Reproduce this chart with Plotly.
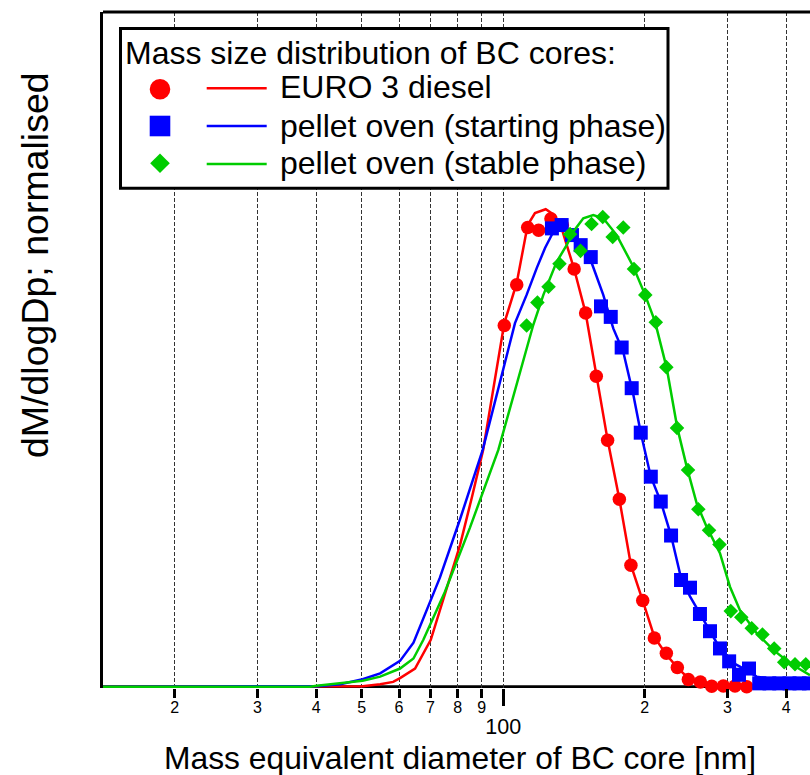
import math
import plotly.graph_objects as go

# ---------------- data: mass size distributions of BC cores ----------------
# measured points (mass equivalent diameter in nm, normalised dM/dlogDp)
red_d = [100.5, 106.8, 112.7, 118.9, 126.3, 133.6, 141.5, 149.7, 157.7, 166.7,
         176.6, 186.9, 198.0, 209.6, 222.3, 234.6, 247.6, 262.7, 277.6, 293.9,
         311.2, 329.6, 348.9, 368.6, 389.9, 412.5, 436.3]
red_v = [0.755, 0.840, 0.960, 0.954, 0.978, 0.965, 0.873, 0.781, 0.649, 0.515,
         0.392, 0.254, 0.180, 0.102, 0.070, 0.040, 0.015, 0.010, 0.001, 0.0015,
         0.0015, 0.0, -0.003, -0.003, -0.003, -0.003, -0.003]

blue_d = [126.9, 133.1, 140.0, 146.1, 153.5, 161.4, 169.3, 178.6, 187.6, 196.1,
          206.0, 216.3, 227.5, 238.9, 249.6, 262.1, 275.3, 289.1, 302.4, 317.3,
          333.3, 350.4, 368.1, 386.6, 406.4, 426.8, 447.1]
blue_v = [0.958, 0.965, 0.944, 0.923, 0.898, 0.795, 0.773, 0.709, 0.624, 0.531,
          0.439, 0.387, 0.316, 0.223, 0.207, 0.152, 0.116, 0.080, 0.053, 0.025,
          0.038, 0.007, 0.007, 0.007, 0.007, 0.007, 0.007]

green_d = [112.1, 118.2, 124.8, 131.7, 138.7, 146.0, 154.1, 162.8, 170.9, 180.0,
           189.7, 200.5, 211.1, 222.3, 234.2, 247.2, 260.0, 274.0, 288.4, 304.8,
           320.9, 337.7, 356.0, 377.1, 396.0, 417.5, 440.2]
green_v = [0.755, 0.803, 0.836, 0.884, 0.946, 0.911, 0.967, 0.982, 0.940, 0.960,
           0.873, 0.819, 0.762, 0.668, 0.541, 0.453, 0.371, 0.327, 0.297, 0.158,
           0.145, 0.122, 0.109, 0.080, 0.051, 0.047, 0.047]

# fitted curves
red_fit_d = [14.0, 40.1, 50.2, 54.7, 58.3, 60.3, 64.9, 70.1, 75.1, 80.9, 85.8,
             90.6, 100.5, 106.8, 112.7, 116.8, 123.1, 126.7, 133.1, 141.5, 149.7,
             157.7, 166.7, 176.6, 186.9, 198.0, 209.6, 222.0, 234.6, 247.6, 262.0,
             278.0, 311.0, 449.0]
red_fit_v = [0.0, 0.0, 0.001, 0.005, 0.010, 0.018, 0.038, 0.098, 0.192, 0.296, 0.397,
             0.495, 0.760, 0.844, 0.965, 0.990, 0.998, 0.990, 0.958, 0.873, 0.781,
             0.649, 0.516, 0.392, 0.254, 0.180, 0.104, 0.068, 0.040, 0.018, 0.008,
             0.0025, 0.0004, 0.0]

blue_fit_d = [14.0, 40.1, 45.0, 50.2, 54.7, 60.3, 64.4, 73.3, 80.9, 90.4, 105.9,
              112.1, 117.8, 122.7, 127.8, 133.3, 140.0, 146.1, 153.4, 163.2, 171.4,
              180.0, 189.1, 196.1, 206.0, 216.3, 227.5, 238.9, 249.6, 262.1, 275.3,
              289.1, 302.6, 318.8, 346.1, 388.0, 449.3]
blue_fit_v = [0.0, 0.001, 0.005, 0.0155, 0.028, 0.054, 0.092, 0.228, 0.350, 0.495, 0.760,
              0.819, 0.875, 0.917, 0.951, 0.963, 0.943, 0.919, 0.892, 0.819, 0.749,
              0.700, 0.610, 0.531, 0.439, 0.387, 0.316, 0.227, 0.189, 0.153, 0.117,
              0.080, 0.054, 0.042, 0.021, 0.014, 0.012]

green_fit_d = [14.0, 38.8, 40.1, 50.2, 54.7, 60.3, 64.4, 67.6, 75.1, 84.9, 97.6,
               115.8, 121.7, 129.9, 136.4, 140.9, 148.0, 155.4, 163.2, 174.3, 189.1,
               200.3, 210.3, 222.7, 234.6, 245.6, 258.0, 270.9, 289.1, 303.6, 318.8,
               346.1, 375.4, 407.4, 449.3]
green_fit_v = [0.0, 0.0, 0.002, 0.0125, 0.021, 0.038, 0.059, 0.098, 0.198, 0.332, 0.495,
               0.756, 0.819, 0.888, 0.923, 0.951, 0.979, 0.986, 0.979, 0.944, 0.878,
               0.819, 0.763, 0.666, 0.541, 0.460, 0.383, 0.334, 0.279, 0.209, 0.160,
               0.112, 0.077, 0.049, 0.024]

series_names = ["EURO 3 diesel", "pellet oven (starting phase)", "pellet oven (stable phase)"]
legend_title = "Mass size distribution of BC cores:"

minor_tick_vals = [20, 30, 40, 50, 60, 70, 80, 90, 100, 200, 300, 400]
minor_tick_text = ["2", "3", "4", "5", "6", "7", "8", "9", "", "2", "3", "4"]
major_tick_vals = [100]
major_tick_text = ["100"]

# ---------------- styling ----------------
RED, BLUE, GREEN = "#FF0000", "#0000FF", "#00CC00"
FONT = "Liberation Sans, Arial, Helvetica, sans-serif"
W, H = 810, 775
L, T, R, B = 103, 12, 810, 688          # plot area in figure pixels
X_RANGE = [1.1483, 2.6526]               # log10 of the diameter range
Y_RANGE = [-0.0027, 1.4103]


def px(x):
    return (x - L) / (R - L)


def py(y):
    return (B - y) / (B - T)


fig = go.Figure()

for fd, fv, md, mv, col, sym, size in [
    (red_fit_d, red_fit_v, red_d, red_v, RED, "circle", 13.5),
    (blue_fit_d, blue_fit_v, blue_d, blue_v, BLUE, "square", 14),
    (green_fit_d, green_fit_v, green_d, green_v, GREEN, "diamond", 11.2),
]:
    fig.add_trace(go.Scatter(x=fd, y=fv, mode="lines",
                             line=dict(color=col, width=2.5), showlegend=False,
                             hoverinfo="skip"))
    fig.add_trace(go.Scatter(x=md, y=mv, mode="markers", cliponaxis=False,
                             marker=dict(color=col, symbol=sym, size=size,
                                         line=dict(width=0)),
                             showlegend=False))

# empty trace that keeps the secondary (major tick) axis alive
fig.add_trace(go.Scatter(x=[], y=[], xaxis="x2", showlegend=False))

shapes = [
    # bottom axis line at zero
    dict(type="line", xref="paper", yref="y", x0=0, x1=1, y0=0, y1=0,
         line=dict(color="black", width=3), layer="between"),
    # top frame line
    dict(type="line", xref="paper", yref="paper", x0=0, x1=1, y0=1, y1=1,
         line=dict(color="black", width=3), layer="above"),
    # legend box
    dict(type="rect", xref="paper", yref="paper",
         x0=px(120.5), x1=px(668), y0=py(188.3), y1=py(28.5),
         line=dict(color="black", width=3), fillcolor="white", layer="above"),
]

rows_y = [88.3, 126.0, 164.0]
cols = [RED, BLUE, GREEN]
for yy, col in zip(rows_y, cols):
    shapes.append(dict(type="line", xref="paper", yref="paper",
                       x0=px(206.7), x1=px(266.7), y0=py(yy), y1=py(yy),
                       line=dict(color=col, width=2.5), layer="above"))

# legend symbols
shapes.append(dict(type="circle", xref="paper", yref="paper", xsizemode="pixel",
                   ysizemode="pixel", xanchor=px(160), yanchor=py(89.3),
                   x0=-10.3, x1=10.3, y0=-10.3, y1=10.3,
                   fillcolor=RED, line=dict(width=0), layer="above"))
shapes.append(dict(type="rect", xref="paper", yref="paper", xsizemode="pixel",
                   ysizemode="pixel", xanchor=px(160), yanchor=py(126),
                   x0=-10.3, x1=10.3, y0=-10.3, y1=10.3,
                   fillcolor=BLUE, line=dict(width=0), layer="above"))
shapes.append(dict(type="path", xref="paper", yref="paper", xsizemode="pixel",
                   ysizemode="pixel", xanchor=px(160), yanchor=py(163.3),
                   path="M -9.8,0 L 0,9.8 L 9.8,0 L 0,-9.8 Z",
                   fillcolor=GREEN, line=dict(width=0), layer="above"))

annotations = [
    dict(text=legend_title, xref="paper", yref="paper", x=px(123), y=py(52.5),
         xanchor="left", yanchor="middle", showarrow=False,
         font=dict(family=FONT, size=32, color="black")),
]
for yy, name in zip([87.5, 125.5, 163.0], series_names):
    annotations.append(dict(text=name, xref="paper", yref="paper", x=px(278),
                            y=py(yy), xanchor="left", yanchor="middle",
                            showarrow=False,
                            font=dict(family=FONT, size=32, color="black")))
# axis titles
annotations.append(dict(text="Mass equivalent diameter of BC core [nm]",
                        xref="paper", yref="paper", x=px(460), y=py(758),
                        xanchor="center", yanchor="middle", showarrow=False,
                        font=dict(family=FONT, size=31.8, color="black")))
annotations.append(dict(text="dM/dlogDp; normalised", textangle=-90,
                        xref="paper", yref="paper", x=px(35), y=py(265),
                        xanchor="center", yanchor="middle", showarrow=False,
                        font=dict(family=FONT, size=37.5, color="black")))

fig.update_layout(
    width=W, height=H,
    margin=dict(l=L, r=W - R, t=T, b=H - B, pad=0),
    paper_bgcolor="white", plot_bgcolor="white",
    showlegend=False,
    font=dict(family=FONT, color="black"),
    xaxis=dict(type="log", range=X_RANGE, tickmode="array",
               tickvals=minor_tick_vals, ticktext=minor_tick_text,
               ticks="outside", ticklen=9, tickwidth=2.5, tickcolor="black",
               ticklabelstandoff=-4,
               tickfont=dict(family=FONT, size=16, color="black"),
               showgrid=True, gridcolor="#333333", gridwidth=1,
               griddash="4px,2px", showline=False, zeroline=False),
    xaxis2=dict(type="log", range=X_RANGE, overlaying="x", anchor="y",
                side="bottom", tickmode="array", tickvals=major_tick_vals,
                ticktext=major_tick_text, ticks="outside", ticklen=17,
                tickwidth=2.5, tickcolor="black", ticklabelstandoff=2,
                tickfont=dict(family=FONT, size=21.5, color="black"),
                showgrid=False, showline=False, zeroline=False),
    yaxis=dict(range=Y_RANGE, showticklabels=False, ticks="", showgrid=False,
               zeroline=False, showline=True, linewidth=3, linecolor="black"),
    shapes=shapes,
    annotations=annotations,
)

fig.write_html("out.html", config={"displayModeBar": False})
